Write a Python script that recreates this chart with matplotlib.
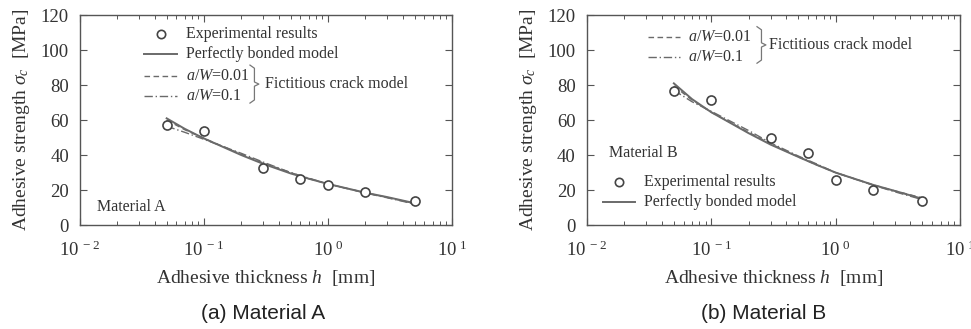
import numpy as np
import matplotlib
matplotlib.use("Agg")
import matplotlib.pyplot as plt
from matplotlib.ticker import FixedLocator, FuncFormatter, LogLocator, NullFormatter

plt.rcParams['font.family'] = ['Liberation Serif', 'DejaVu Serif']
plt.rcParams['mathtext.fontset'] = 'custom'
plt.rcParams['mathtext.rm'] = 'Liberation Serif'
plt.rcParams['mathtext.it'] = 'Liberation Serif:italic'

# experimental points
h_exp = [0.05, 0.1, 0.3, 0.6, 1.0, 2.0, 5.0]
sA_exp = [57.1, 53.7, 32.8, 26.1, 22.9, 18.7, 13.7]
sB_exp = [76.8, 71.4, 49.9, 41.3, 25.5, 20.0, 13.7]

# model curves
h_mod = [0.05, 0.07, 0.1, 0.2, 0.3, 0.5, 0.7, 1.0, 2.0, 3.0, 5.0]
sA_bond = [61.0, 55.0, 49.5, 40.0, 35.0, 29.5, 26.5, 23.5, 18.5, 16.0, 12.5]
sA_aw001 = [60.0, 54.5, 49.5, 40.5, 35.5, 30.0, 26.5, 23.5, 18.5, 15.8, 12.3]
sA_aw01 = [56.5, 53.0, 49.0, 41.0, 36.0, 30.0, 26.8, 23.5, 18.3, 15.6, 12.0]
sB_bond = [81.0, 72.0, 64.5, 52.5, 46.0, 39.0, 34.5, 30.0, 23.0, 19.5, 15.0]
sB_aw001 = [79.5, 71.5, 64.5, 53.0, 46.5, 39.0, 34.5, 30.0, 23.0, 19.5, 15.5]
sB_aw01 = [77.0, 70.5, 65.0, 54.0, 47.0, 39.5, 35.0, 30.0, 22.8, 19.0, 14.5]

yticks = [0, 20, 40, 60, 80, 100, 120]
xticks = [1e-2, 1e-1, 1e0, 1e1]
xtick_labels = ['-2', '-1', '0', '1']

LC = '#6a6a6a'
TC = '#333333'

fig = plt.figure(figsize=(9.71, 3.29), dpi=100)
axA = fig.add_axes([0.0824, 0.316, 0.383, 0.638])
axB = fig.add_axes([0.6045, 0.316, 0.384, 0.638])


def style(ax):
    ax.set_xscale('log')
    ax.set_xlim(1e-2, 1e1)
    ax.set_ylim(0, 120)
    ax.yaxis.set_major_locator(FixedLocator(yticks))
    ax.xaxis.set_major_locator(FixedLocator(xticks))
    ax.xaxis.set_minor_locator(LogLocator(base=10, subs=np.arange(2, 10)))
    ax.xaxis.set_minor_formatter(NullFormatter())
    ax.xaxis.set_major_formatter(FuncFormatter(
        lambda v, p: r'$\mathregular{10^{\ %s}}$' % xtick_labels[xticks.index(v)] if v in xticks else ''))
    ax.tick_params(which='both', direction='in', top=True, right=True, colors='#555555',
                   labelcolor=TC, labelsize=13.5)
    ax.tick_params(which='major', length=5, width=0.8)
    ax.tick_params(which='minor', length=3, width=0.7)
    ax.tick_params(axis='x', pad=11)
    ax.tick_params(axis='y', pad=8)
    for s in ax.spines.values():
        s.set_color('#555555')
        s.set_linewidth(1.0)
    ax.set_xlabel(r'Adhesive thickness $h$  [mm]', fontsize=14, color=TC, labelpad=6)
    ax.set_ylabel(r'Adhesive strength $\sigma_c$  [MPa]', fontsize=14, color=TC, labelpad=6)


def curves(ax, s_exp, s_bond, s001, s01):
    ax.plot(h_mod, s001, ls=(0, (4, 2.5)), color=LC, lw=1.0)
    ax.plot(h_mod, s01, ls=(0, (6, 2, 1, 2)), color=LC, lw=1.0)
    ax.plot(h_mod, s_bond, '-', color=LC, lw=1.4)
    ax.plot(h_exp, s_exp, 'o', mfc='white', mec='#444444', mew=1.2, ms=6.5)


def brace(ax, x, y0, y1):
    ym = (y0 + y1) / 2
    d = 0.012
    ax.plot([x, x + d, x + d, x + 2 * d, x + d, x + d, x],
            [y1, y1 - 0.015, ym + 0.01, ym, ym - 0.01, y0 + 0.015, y0],
            transform=ax.transAxes, color='#777777', lw=0.9, clip_on=False)


for ax in (axA, axB):
    style(ax)

curves(axA, sA_exp, sA_bond, sA_aw001, sA_aw01)
curves(axB, sB_exp, sB_bond, sB_aw001, sB_aw01)

fs = 11.5
kw = dict(fontsize=fs, color=TC, va='center')

# legend A
axA.plot([0.218], [0.91], 'o', mfc='white', mec='#444444', mew=1.2, ms=6, transform=axA.transAxes)
axA.text(0.285, 0.91, 'Experimental results', transform=axA.transAxes, **kw)
axA.plot([0.172, 0.261], [0.814, 0.814], '-', color=LC, lw=1.4, transform=axA.transAxes)
axA.text(0.285, 0.814, 'Perfectly bonded model', transform=axA.transAxes, **kw)
axA.plot([0.172, 0.261], [0.71, 0.71], ls=(0, (4, 2.5)), color=LC, lw=1.0, transform=axA.transAxes)
axA.text(0.285, 0.71, r'$a/W$=0.01', transform=axA.transAxes, **kw)
axA.plot([0.172, 0.261], [0.614, 0.614], ls=(0, (6, 2, 1, 2)), color=LC, lw=1.0, transform=axA.transAxes)
axA.text(0.285, 0.614, r'$a/W$=0.1', transform=axA.transAxes, **kw)
brace(axA, 0.457, 0.581, 0.762)
axA.text(0.497, 0.671, 'Fictitious crack model', transform=axA.transAxes, **kw)
axA.text(0.046, 0.086, 'Material A', transform=axA.transAxes, **kw)

# legend B
axB.plot([0.164, 0.249], [0.895, 0.895], ls=(0, (4, 2.5)), color=LC, lw=1.0, transform=axB.transAxes)
axB.text(0.271, 0.895, r'$a/W$=0.01', transform=axB.transAxes, **kw)
axB.plot([0.164, 0.249], [0.8, 0.8], ls=(0, (6, 2, 1, 2)), color=LC, lw=1.0, transform=axB.transAxes)
axB.text(0.271, 0.8, r'$a/W$=0.1', transform=axB.transAxes, **kw)
brace(axB, 0.456, 0.771, 0.945)
axB.text(0.488, 0.857, 'Fictitious crack model', transform=axB.transAxes, **kw)
axB.text(0.059, 0.343, 'Material B', transform=axB.transAxes, **kw)
axB.plot([0.086], [0.205], 'o', mfc='white', mec='#444444', mew=1.2, ms=6, transform=axB.transAxes)
axB.text(0.153, 0.205, 'Experimental results', transform=axB.transAxes, **kw)
axB.plot([0.043, 0.129], [0.11, 0.11], '-', color=LC, lw=1.4, transform=axB.transAxes)
axB.text(0.153, 0.11, 'Perfectly bonded model', transform=axB.transAxes, **kw)

# captions
fig.text(0.271, 0.048, '(a) Material A', family='Liberation Sans', fontsize=15, color='#222222', ha='center', va='center')
fig.text(0.786, 0.048, '(b) Material B', family='Liberation Sans', fontsize=15, color='#222222', ha='center', va='center')

fig.savefig('out.png', dpi=100, facecolor='white')
